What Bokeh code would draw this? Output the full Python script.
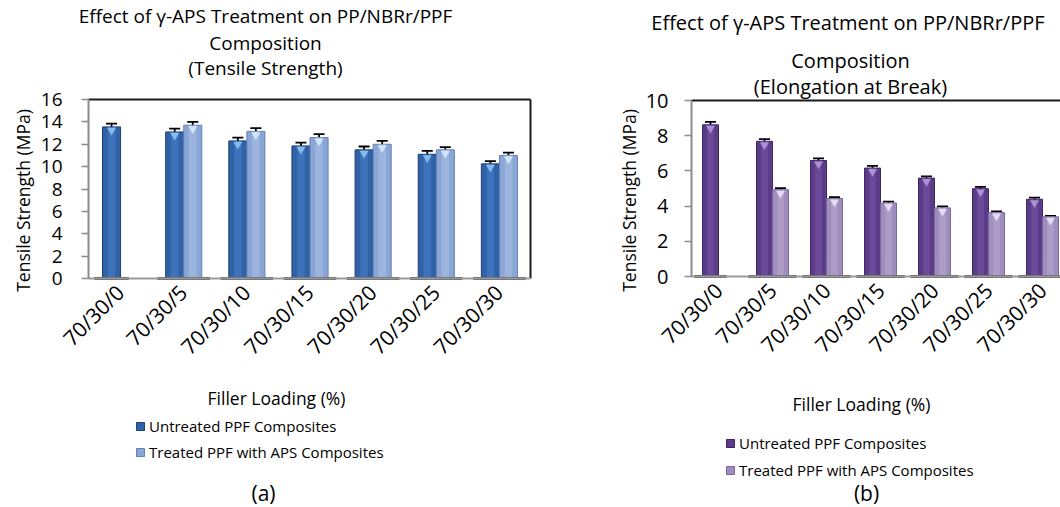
import math
from bokeh.plotting import figure
from bokeh.models import (Label, Legend, LegendItem, ColumnDataSource, Whisker,
                          TeeHead, FixedTicker, Range1d)
from bokeh.layouts import row
from bokeh.embed import file_html
from bokeh.resources import INLINE

# ---------------- data ----------------
categories = ["70/30/0", "70/30/5", "70/30/10", "70/30/15", "70/30/20", "70/30/25", "70/30/30"]

# (a) Tensile strength (MPa)
ts_untreated = [13.55, 13.1, 12.3, 11.85, 11.5, 11.1, 10.25]
ts_untreated_err = [0.3, 0.3, 0.3, 0.3, 0.3, 0.3, 0.25]
ts_treated = [None, 13.7, 13.15, 12.6, 12.0, 11.5, 11.0]
ts_treated_err = [None, 0.3, 0.3, 0.3, 0.3, 0.25, 0.25]
ts_yticks = [0, 2, 4, 6, 8, 10, 12, 14, 16]

# (b) Elongation at break
eb_untreated = [8.62, 7.68, 6.59, 6.16, 5.59, 4.99, 4.39]
eb_untreated_err = [0.16, 0.13, 0.12, 0.13, 0.1, 0.1, 0.09]
eb_treated = [None, 4.93, 4.43, 4.18, 3.90, 3.63, 3.39]
eb_treated_err = [None, 0.09, 0.08, 0.07, 0.08, 0.07, 0.06]
eb_yticks = [0, 2, 4, 6, 8, 10]

series_names = ["Untreated PPF Composites", "Treated PPF with APS Composites"]
x_title = "Filler Loading (%)"
y_title = "Tensile Strength (MPa)"
title_a = ["Effect of \u03b3-APS Treatment on PP/NBRr/PPF", "Composition", "(Tensile Strength)"]
title_b = ["Effect  of \u03b3-APS Treatment on PP/NBRr/PPF", "Composition", "(Elongation at Break)"]

FONT = "Open Sans"
PAGE_TOP, PAGE_BOTTOM = 0, 507


def make_panel(fig_x0, width, chart_left, unit_x, chart_bottom, unit_y,
               ymax, yticks, untreated, untreated_err, treated, treated_err,
               colors, bar_w, off_u, off_t, pad, ylab_standoff, ytick_size,
               texts, legend_pos, legend_spacing):
    n = len(categories)
    H = PAGE_BOTTOM - PAGE_TOP
    xr = Range1d((fig_x0 - chart_left) / unit_x, (fig_x0 + width - chart_left) / unit_x)
    yr = Range1d(-(PAGE_BOTTOM - chart_bottom) / unit_y, (chart_bottom - PAGE_TOP) / unit_y)
    p = figure(width=width, height=H, output_backend="svg", toolbar_location=None,
               x_range=xr, y_range=yr, min_border=0)
    p.background_fill_color = "white"
    p.border_fill_color = "white"
    p.outline_line_color = None
    p.xgrid.visible = False
    p.ygrid.visible = False

    xu = [i + off_u for i in range(n)]
    idx_t = [i for i in range(n) if treated[i] is not None]
    xt = [i + off_t for i in idx_t]
    vt = [treated[i] for i in idx_t]
    et = [treated_err[i] for i in idx_t]

    # chart box: top and right border
    p.multi_line(xs=[[0, n], [n, n]], ys=[[ymax, ymax], [0, ymax]],
                 line_color="#1a1a1a", line_width=2)

    # floor shadows under each group
    x0s, x1s = [], []
    for i in range(n):
        left = xu[i] - bar_w / 2 - pad
        right = (xt[idx_t.index(i)] if i in idx_t else xu[i]) + bar_w / 2 + pad
        x0s.append(left)
        x1s.append(right)

    (cu, eu, hu, tu), (ct, etc, ht, tt) = colors
    tri_drop = 3.5 / unit_y  # bevel marker sits just under each bar top
    ru = p.vbar(x=xu, top=untreated, width=bar_w, bottom=0, fill_color=cu,
                line_color=eu, line_width=1)
    p.vbar(x=xu, top=untreated, width=bar_w * 0.42, bottom=0, fill_color=hu,
           fill_alpha=0.55, line_color=None)
    p.scatter(x=xu, y=[v - tri_drop for v in untreated], marker="inverted_triangle",
              size=9, fill_color=tu, line_color=None, fill_alpha=0.9)
    rt = p.vbar(x=xt, top=vt, width=bar_w, bottom=0, fill_color=ct,
                line_color=etc, line_width=1)
    p.vbar(x=xt, top=vt, width=bar_w * 0.42, bottom=0, fill_color=ht,
           fill_alpha=0.55, line_color=None)
    p.scatter(x=xt, y=[v - tri_drop for v in vt], marker="inverted_triangle",
              size=9, fill_color=tt, line_color=None, fill_alpha=0.9)

    # error bars
    for xs, vs, es in ((xu, untreated, untreated_err), (xt, vt, et)):
        src = ColumnDataSource(dict(base=xs, upper=[v + e for v, e in zip(vs, es)],
                                    lower=[v - e for v, e in zip(vs, es)]))
        w = Whisker(source=src, base="base", upper="upper", lower="lower",
                    dimension="height", line_color="black", line_width=1.8,
                    upper_head=TeeHead(size=11, line_color="black", line_width=1.8),
                    lower_head=TeeHead(size=11, line_color="black", line_width=1.8))
        p.add_layout(w)

    # axes, pinned to the chart box
    p.yaxis.fixed_location = 0
    p.yaxis.bounds = (0, ymax)
    p.yaxis.ticker = FixedTicker(ticks=yticks)
    p.yaxis.major_tick_out = 7
    p.yaxis.major_tick_in = 0
    p.yaxis.minor_tick_out = 0
    p.yaxis.minor_tick_in = 0
    p.yaxis.axis_line_color = "#8c8c8c"
    p.yaxis.axis_line_width = 2
    p.yaxis.major_tick_line_color = "#8c8c8c"
    p.yaxis.major_tick_line_width = 1.5
    p.yaxis.major_label_text_font = FONT
    p.yaxis.major_label_text_font_size = ytick_size
    p.yaxis.major_label_text_color = "black"
    p.yaxis.major_label_standoff = ylab_standoff

    p.xaxis.fixed_location = 0
    p.xaxis.bounds = (0, n)
    p.xaxis.ticker = FixedTicker(ticks=[i + 0.5 for i in range(n)])
    p.xaxis.major_label_overrides = {i + 0.5: c for i, c in enumerate(categories)}
    p.xaxis.major_tick_out = 0
    p.xaxis.major_tick_in = 0
    p.xaxis.minor_tick_out = 0
    p.xaxis.minor_tick_in = 0
    p.xaxis.axis_line_color = "#9a9a9a"
    p.xaxis.axis_line_width = 2
    p.xaxis.major_label_orientation = math.pi / 4
    p.xaxis.major_label_text_font = FONT
    p.xaxis.major_label_text_font_size = "21px"
    p.xaxis.major_label_text_color = "black"
    p.xaxis.major_label_standoff = 10

    p.segment(x0=x0s, y0=[0] * n, x1=x1s, y1=[0] * n, line_color="#555555", line_width=3)

    # text annotations placed in page pixels -> canvas screen units (origin bottom-left)
    for (px, py, txt, size, angle) in texts:
        p.add_layout(Label(x=px - fig_x0, y=PAGE_BOTTOM - py, x_units="screen",
                           y_units="screen", text=txt, text_font=FONT,
                           text_font_size=size, text_align="center",
                           text_baseline="middle", angle=angle, text_color="black"))

    lx, ly = legend_pos
    legend = Legend(items=[LegendItem(label=series_names[0], renderers=[ru]),
                           LegendItem(label=series_names[1], renderers=[rt])],
                    location=(lx - fig_x0, PAGE_BOTTOM - ly),
                    orientation="vertical", padding=0, margin=0, spacing=legend_spacing,
                    glyph_width=10, glyph_height=10, label_standoff=4,
                    label_height=20, label_text_font=FONT,
                    label_text_font_size="15px", label_text_color="black",
                    border_line_color=None, background_fill_alpha=0)
    p.add_layout(legend)
    return p


texts_a = [
    (265, 15, title_a[0], "19px", 0),
    (265, 42, title_a[1], "19px", 0),
    (265, 67, title_a[2], "19px", 0),
    (22, 200, y_title, "17.5px", math.pi / 2),
    (276, 397, x_title, "17.5px", 0),
    (263, 492, "(a)", "21px", 0),
]
texts_b = [
    (850, 22, title_b[0], "20px", 0),
    (850, 60, title_b[1], "20px", 0),
    (850, 86, title_b[2], "20px", 0),
    (628, 200, y_title, "17.5px", math.pi / 2),
    (861, 403, x_title, "17.5px", 0),
    (866, 492, "(b)", "21px", 0),
]

blue = (("#2f62a6", "#1d3f72", "#4a82cc", "#8cc4f2"),
        ("#8aa6d6", "#6680b0", "#a9c1e8", "#d6ecff"))
purple = (("#5b3c89", "#3e2664", "#7656a6", "#b596e0"),
          ("#9f8dbd", "#7a6898", "#b9aad2", "#ebe2f7"))

pa = make_panel(fig_x0=0, width=600, chart_left=88, unit_x=442 / 7, chart_bottom=278,
                unit_y=179 / 16, ymax=16, yticks=ts_yticks,
                untreated=ts_untreated, untreated_err=ts_untreated_err,
                treated=ts_treated, treated_err=ts_treated_err, colors=blue,
                bar_w=0.286, off_u=0.365, off_t=0.651, pad=0.13, ylab_standoff=19,
                ytick_size="19px", texts=texts_a, legend_pos=(135, 462),
                legend_spacing=6)

pb = make_panel(fig_x0=600, width=460, chart_left=691, unit_x=54, chart_bottom=276,
                unit_y=17.6, ymax=10, yticks=eb_yticks,
                untreated=eb_untreated, untreated_err=eb_untreated_err,
                treated=eb_treated, treated_err=eb_treated_err, colors=purple,
                bar_w=0.296, off_u=0.352, off_t=0.648, pad=0.15, ylab_standoff=16,
                ytick_size="20px", texts=texts_b, legend_pos=(725, 480),
                legend_spacing=7)

layout = row(pa, pb)
open("out.html", "w").write(file_html(layout, INLINE))
